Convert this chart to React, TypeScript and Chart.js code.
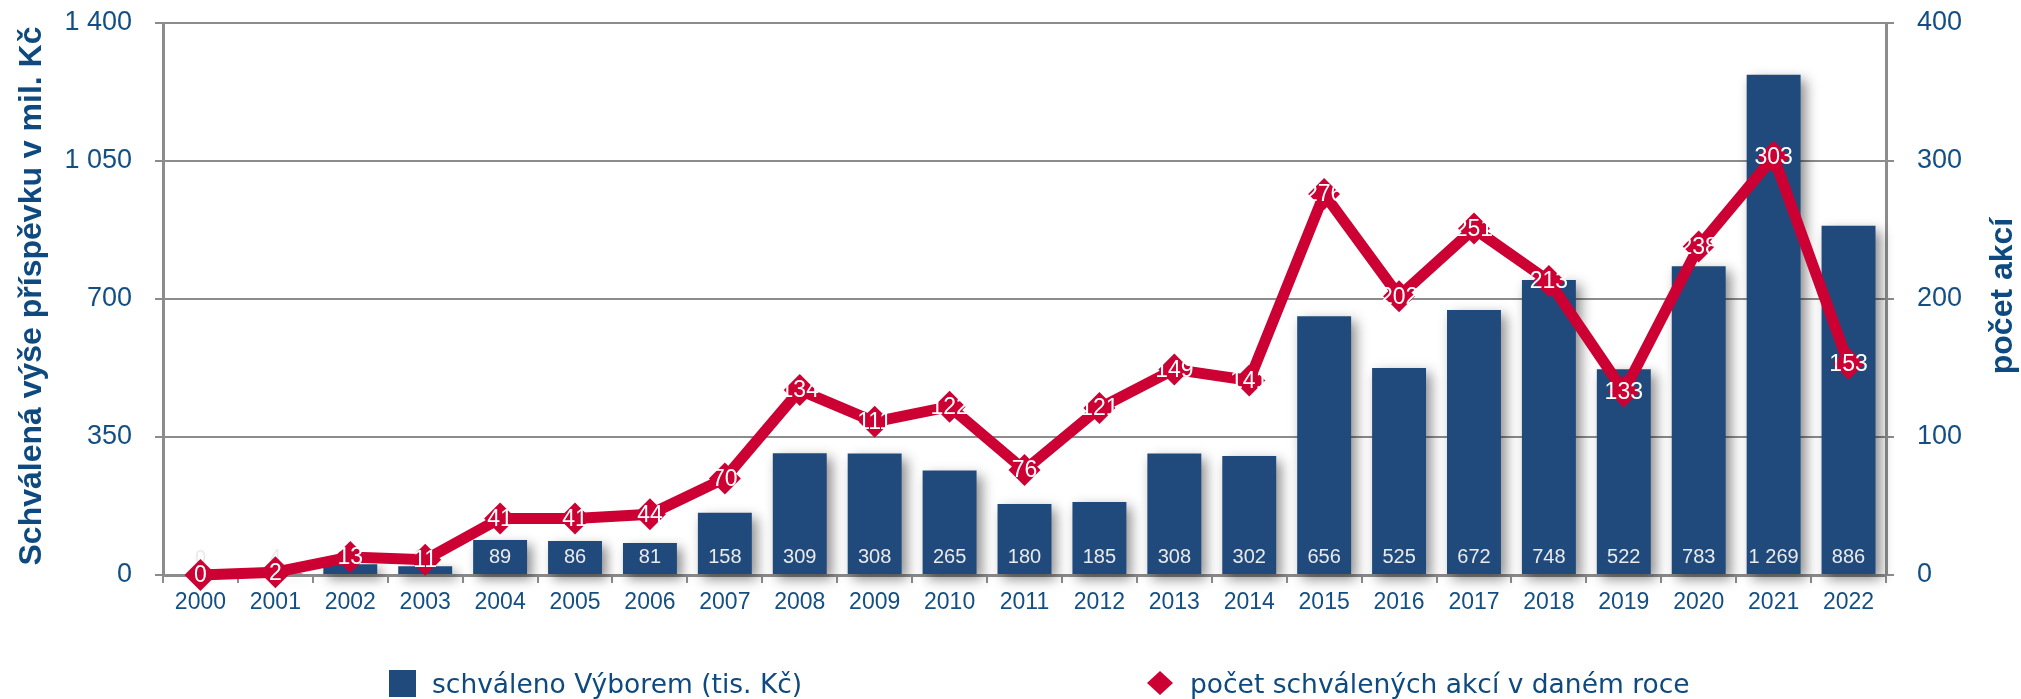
import React, { useEffect, useRef } from 'react';
import { Chart, registerables } from 'chart.js';

Chart.register(...registerables);

const years = ['2000', '2001', '2002', '2003', '2004', '2005', '2006', '2007', '2008', '2009', '2010', '2011',
  '2012', '2013', '2014', '2015', '2016', '2017', '2018', '2019', '2020', '2021', '2022'];
const approvedAmounts = [0, 4, 27, 22, 89, 86, 81, 158, 309, 308, 265, 180, 185, 308, 302, 656, 525, 672, 748, 522, 783, 1269, 886];
const approvedCounts = [0, 2, 13, 11, 41, 41, 44, 70, 134, 111, 122, 76, 121, 149, 141, 276, 202, 251, 213, 133, 238, 303, 153];
const leftTicks = [0, 350, 700, 1050, 1400];
const rightTicks = [0, 100, 200, 300, 400];

const barSeriesName = 'schváleno Výborem (tis. Kč)';
const lineSeriesName = 'počet schválených akcí v daném roce';
const leftTitle = 'Schválená výše příspěvku v mil. Kč';
const rightTitle = 'počet akcí';

const BAR = '#214A7C';
const LINE = '#CC0033';
const GRID = '#8C8C8C';
const TEXT = '#134F84';
const TITLE = '#0E4A80';
const W = 2021;
const H = 699;
const SANS = '"Liberation Sans", Arial, sans-serif';

const fmt = (v: number) => String(Math.round(v)).replace(/\B(?=(\d{3})+(?!\d))/g, ' ');

const decorPlugin = {
  id: 'decor',
  beforeDatasetDraw(chart: any, args: any) {
    const ctx = chart.ctx;
    ctx.save();
    if (args.meta.type === 'bar') {
      ctx.shadowColor = 'rgba(0,0,0,0.45)';
      ctx.shadowBlur = 12;
      ctx.shadowOffsetX = 5;
      ctx.shadowOffsetY = 5;
    }
  },
  afterDatasetDraw(chart: any, args: any) {
    const ctx = chart.ctx;
    ctx.restore();
    if (args.meta.type === 'bar') {
      ctx.save();
      ctx.font = '20px ' + SANS;
      ctx.fillStyle = '#EAEAEA';
      ctx.textAlign = 'center';
      ctx.textBaseline = 'middle';
      const data = chart.data.datasets[args.index].data;
      args.meta.data.forEach((el: any, i: number) => {
        ctx.fillText(fmt(data[i]), el.x, el.base - 17);
      });
      ctx.restore();
    }
  },
  afterDatasetsDraw(chart: any) {
    const ctx = chart.ctx;
    chart.data.datasets.forEach((ds: any, di: number) => {
      const meta = chart.getDatasetMeta(di);
      if (meta.type !== 'line') return;
      ctx.save();
      ctx.font = '23px ' + SANS;
      ctx.fillStyle = '#FFFFFF';
      ctx.textAlign = 'center';
      ctx.textBaseline = 'middle';
      meta.data.forEach((el: any, i: number) => {
        ctx.fillText(fmt(ds.data[i]), el.x, el.y + 1);
      });
      ctx.restore();
    });
  },
  afterDraw(chart: any) {
    const ctx = chart.ctx;
    const area = chart.chartArea;
    const midY = (area.top + area.bottom) / 2 - 3;
    ctx.save();
    ctx.fillStyle = TITLE;
    ctx.font = 'bold 32px ' + SANS;
    ctx.textAlign = 'center';
    ctx.textBaseline = 'middle';
    ctx.translate(32, midY);
    ctx.rotate(-Math.PI / 2);
    ctx.fillText(leftTitle, 0, 0);
    ctx.restore();

    ctx.save();
    ctx.fillStyle = TITLE;
    ctx.font = 'bold 32px ' + SANS;
    ctx.textAlign = 'center';
    ctx.textBaseline = 'middle';
    ctx.translate(2003, midY);
    ctx.rotate(-Math.PI / 2);
    ctx.fillText(rightTitle, 0, 0);
    ctx.restore();

    // legend
    const ds0 = chart.data.datasets[0];
    const ds1 = chart.data.datasets[1];
    const legendY = 683;
    ctx.save();
    ctx.fillStyle = ds0.backgroundColor;
    ctx.fillRect(389, legendY - 13, 27, 27);
    ctx.fillStyle = ds1.borderColor;
    ctx.beginPath();
    ctx.moveTo(1160, legendY - 12);
    ctx.lineTo(1173, legendY);
    ctx.lineTo(1160, legendY + 12);
    ctx.lineTo(1147, legendY);
    ctx.closePath();
    ctx.fill();
    ctx.fillStyle = TITLE;
    ctx.font = '26.5px "DejaVu Sans", Verdana, sans-serif';
    ctx.textAlign = 'left';
    ctx.textBaseline = 'alphabetic';
    ctx.fillText(ds0.label, 432, 693);
    ctx.fillText(ds1.label, 1190, 693);
    ctx.restore();
  },
};

export default function App() {
  const ref = useRef<HTMLCanvasElement>(null);
  useEffect(() => {
    document.body.style.margin = '0';
    const canvas = ref.current;
    if (!canvas) return;
    const chart = new Chart(canvas, {
      type: 'bar',
      data: {
        labels: years,
        datasets: [
          {
            type: 'bar',
            label: barSeriesName,
            data: approvedAmounts,
            backgroundColor: BAR,
            borderWidth: 0,
            yAxisID: 'y',
            order: 2,
            barPercentage: 0.72,
            categoryPercentage: 1,
            clip: false,
          } as any,
          {
            type: 'line',
            label: lineSeriesName,
            data: approvedCounts,
            borderColor: LINE,
            backgroundColor: LINE,
            borderWidth: 11,
            pointStyle: 'rectRot',
            pointRadius: 16,
            pointBackgroundColor: LINE,
            pointBorderWidth: 0,
            yAxisID: 'y1',
            order: 1,
            clip: false,
            tension: 0,
          } as any,
        ],
      },
      options: {
        responsive: false,
        animation: false,
        layout: { padding: { top: 23, left: 0, right: 0, bottom: 0 } },
        plugins: { legend: { display: false }, tooltip: { enabled: false } },
        scales: {
          x: {
            offset: true,
            grid: { display: true, drawOnChartArea: false, drawTicks: true, tickLength: 8, color: GRID, lineWidth: 2, offset: true },
            border: { display: true, color: GRID, width: 3 },
            ticks: { color: TEXT, font: { family: SANS, size: 23 }, padding: 6, maxRotation: 0, autoSkip: false },
            afterFit: (s: any) => { s.height = H - 575; s.paddingLeft = 0; s.paddingRight = 0; },
          },
          y: {
            position: 'left',
            min: 0,
            max: 1400,
            afterBuildTicks: (s: any) => { s.ticks = leftTicks.map((v) => ({ value: v })); },
            grid: { color: GRID, lineWidth: 2, tickLength: 8, drawTicks: true },
            border: { display: true, color: GRID, width: 3 },
            ticks: { color: TEXT, font: { family: SANS, size: 27 }, padding: 23, callback: (v: any) => fmt(Number(v)) },
            afterFit: (s: any) => { s.width = 163; s.paddingTop = 0; s.paddingBottom = 0; },
          },
          y1: {
            position: 'right',
            min: 0,
            max: 400,
            afterBuildTicks: (s: any) => { s.ticks = rightTicks.map((v) => ({ value: v })); },
            grid: { drawOnChartArea: false, color: GRID, lineWidth: 2, tickLength: 8, drawTicks: true },
            border: { display: true, color: GRID, width: 3 },
            ticks: { color: TEXT, font: { family: SANS, size: 27 }, padding: 23, callback: (v: any) => fmt(Number(v)) },
            afterFit: (s: any) => { s.width = W - 1886; s.paddingTop = 0; s.paddingBottom = 0; },
          },
        },
      } as any,
      plugins: [decorPlugin],
    });
    return () => chart.destroy();
  }, []);
  return <canvas ref={ref} width={W} height={H} style={{ display: 'block', width: W, height: H }} />;
}
